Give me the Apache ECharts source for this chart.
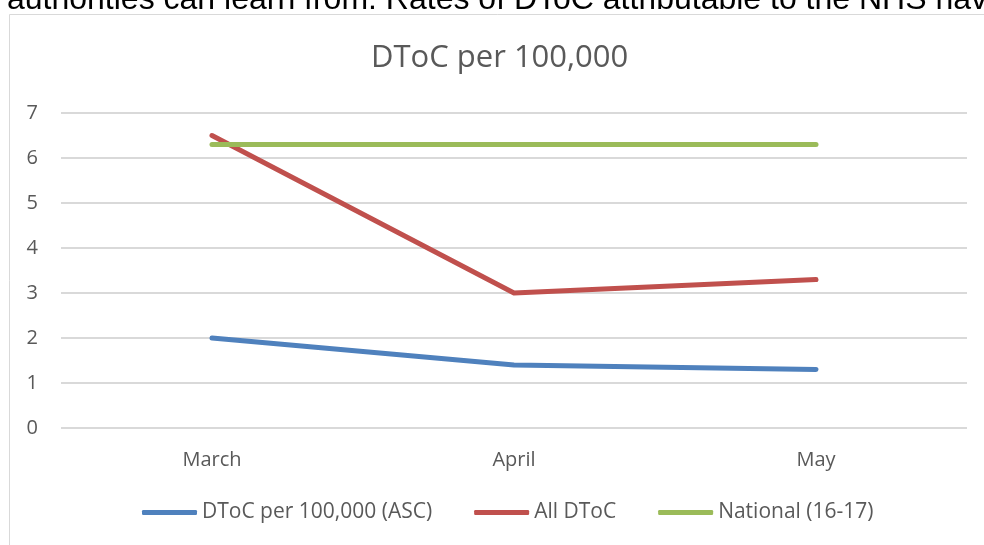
<!DOCTYPE html>
<html>
<head>
<meta charset="utf-8">
<script src="https://cdn.jsdelivr.net/npm/echarts@6/dist/echarts.min.js"></script>
<style>
  html, body { margin: 0; padding: 0; background: #ffffff; }
  #chart { width: 984px; height: 545px; }
</style>
</head>
<body>
<div id="chart"></div>
<script>
// Months on the category axis
const months = ['March', 'April', 'May'];

// Delayed transfers of care per 100,000 population
const ascValues = [2.0, 1.4, 1.3];
const allDtocValues = [6.5, 3.0, 3.3];
const nationalValues = [6.3, 6.3, 6.3];

const seriesNames = ['DToC per 100,000 (ASC)', 'All DToC', 'National (16-17)'];
const seriesColors = ['#4f81bd', '#c0504d', '#9bbb59'];

// Value axis range
const yMin = 0;
const yMax = 7;
const yStep = 1;

const chartTitle = 'DToC per 100,000';
const leadText = 'authorities can learn from. Rates of DToC attributable to the NHS hav';

const chart = echarts.init(document.getElementById('chart'), null, { renderer: 'canvas' });

const lineSeries = [ascValues, allDtocValues, nationalValues].map((vals, i) => ({
  name: seriesNames[i],
  type: 'line',
  data: vals,
  symbol: 'none',
  smooth: false,
  lineStyle: { width: 5, color: seriesColors[i], cap: 'round', join: 'round' },
  itemStyle: { color: seriesColors[i] },
  z: 3 + i
}));

const labelFont = { fontFamily: 'Open Sans', fontSize: 20, color: '#595959' };

chart.setOption({
  animation: false,
  backgroundColor: '#ffffff',
  title: {
    text: chartTitle,
    left: 366,
    top: 38,
    textStyle: { fontFamily: 'Open Sans', fontSize: 31, fontWeight: 'normal', color: '#595959' }
  },
  graphic: [
    {
      type: 'rect',
      shape: { x: 9.5, y: 14.5, width: 1000, height: 600 },
      style: { fill: 'none', stroke: '#d9d9d9', lineWidth: 1 },
      silent: true
    },
    {
      type: 'text',
      x: 7,
      y: 16,
      style: {
        text: leadText,
        fontFamily: 'Liberation Sans',
        fontSize: 32,
        fill: '#000000',
        verticalAlign: 'bottom'
      },
      silent: true
    }
  ],
  legend: {
    data: seriesNames,
    bottom: 17,
    left: 137,
    itemWidth: 55,
    itemHeight: 5,
    itemGap: 42,
    itemTextGap: 4,
    icon: 'roundRect',
    textStyle: Object.assign({}, labelFont, { fontSize: 21 })
  },
  grid: { left: 61, right: 17, top: 113, bottom: 117, containLabel: false },
  xAxis: {
    type: 'category',
    data: months,
    boundaryGap: true,
    axisLine: { show: false },
    axisTick: { show: false },
    axisLabel: Object.assign({ margin: 22 }, labelFont)
  },
  yAxis: {
    type: 'value',
    min: yMin,
    max: yMax,
    interval: yStep,
    axisLine: { show: false },
    axisTick: { show: false },
    axisLabel: Object.assign({ margin: 23 }, labelFont),
    splitLine: { lineStyle: { color: '#d9d9d9', width: 2 } }
  },
  series: lineSeries
});
</script>
</body>
</html>
